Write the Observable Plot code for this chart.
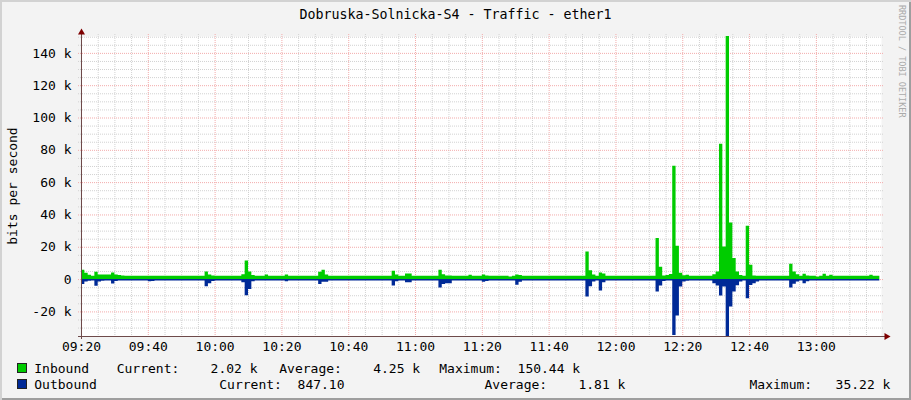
<!DOCTYPE html>
<html><head><meta charset="utf-8">
<script src="https://cdn.jsdelivr.net/npm/d3@7"></script>
<script src="https://cdn.jsdelivr.net/npm/@observablehq/plot@0.6"></script>
<style>
html,body{margin:0;padding:0;background:#fff;}
#chart{position:relative;width:911px;height:400px;background:#f3f3f3;box-shadow:inset 2px 2px 0 #d2d2d2, inset -2px -2px 0 #9e9e9e;font-family:"DejaVu Sans Mono",monospace;font-size:13px;color:#000;overflow:hidden}
#chart svg{position:absolute;left:0;top:0}
.t{position:absolute;white-space:pre;line-height:13px}
.sw{position:absolute;width:10px;height:10px;box-sizing:border-box;border:1px solid #222}
</style></head><body><div id="chart"></div>
<script>
// ---- data (values in k bits per second, one sample per minute from 09:20) ----
const startLabel = "09:20";
const inbound = [
  5.8,4.0,2.7,2.1,4.5,2.9,2.9,2.8,2.8,4.1,2.9,2.6,2.2,2.0,2.0,2.1,2.0,2.0,2.0,2.0,
  2.0,2.0,2.0,2.1,2.0,2.0,2.0,2.0,2.0,2.0,2.0,2.1,2.0,2.0,2.0,2.0,2.0,4.7,2.9,2.2,
  2.0,2.0,2.0,2.0,2.0,2.0,2.0,2.0,3.0,11.5,4.7,2.5,2.1,2.0,2.0,2.9,2.1,2.0,2.0,2.0,
  2.0,2.9,2.1,2.0,2.0,2.0,2.0,2.0,2.0,2.0,2.0,4.5,5.8,2.9,2.1,2.0,2.0,2.0,2.0,2.0,
  2.0,2.0,2.0,2.0,2.0,2.0,2.0,2.0,2.0,2.0,2.0,2.0,2.0,5.2,2.9,2.1,2.0,3.5,3.5,2.1,
  2.0,2.0,2.0,2.0,2.0,2.0,2.0,5.8,3.0,2.2,2.2,2.0,2.0,2.0,2.0,2.0,2.7,2.0,2.0,2.0,
  2.9,2.2,2.0,2.0,2.0,2.0,2.0,2.0,1.6,2.0,2.9,2.5,2.0,2.0,2.0,2.0,2.0,2.0,2.0,2.0,
  2.0,2.0,2.0,2.0,2.0,2.0,2.0,2.0,2.0,2.0,2.1,17.0,5.4,2.9,2.0,4.1,3.5,2.1,2.0,2.0,
  2.0,2.0,2.0,2.0,2.0,2.0,2.0,2.0,2.0,2.0,2.0,2.0,25.4,7.6,2.2,2.5,3.1,70.2,20.6,3.9,
  2.3,2.7,2.0,2.0,2.0,2.0,2.0,2.0,2.0,3.0,4.7,83.8,20.2,150.44,35.0,13.0,4.7,2.5,2.0,33.0,
  8.9,2.2,2.0,2.0,2.0,2.0,2.0,2.0,2.0,2.0,2.0,2.0,9.5,4.7,3.0,2.0,3.3,2.2,2.0,2.0,
  1.6,2.0,3.3,2.0,2.7,2.0,2.0,2.0,2.0,2.0,2.0,2.0,2.0,2.0,2.0,2.0,2.7,2.0,2.0,2.02
];
const outbound = [
  3.1,1.5,1.0,0.9,4.1,1.5,1.0,0.9,0.9,2.7,1.2,0.9,0.9,0.9,0.9,0.9,0.9,0.9,0.9,0.9,
  1.4,1.2,0.9,0.9,0.9,0.9,0.9,0.9,0.9,0.9,0.9,0.9,0.9,0.9,0.9,0.9,0.9,4.5,2.5,1.2,
  0.9,0.9,0.9,0.9,0.9,0.9,0.9,0.9,2.0,10.0,6.2,1.4,0.9,0.9,0.9,0.9,0.9,0.9,0.9,0.9,
  0.9,1.4,0.9,0.9,0.9,0.9,0.9,0.9,0.9,0.9,0.9,3.1,1.6,1.6,0.9,0.9,0.9,0.9,0.9,0.9,
  0.9,0.9,0.9,0.9,0.9,0.9,0.9,0.9,0.9,0.9,0.9,0.9,0.9,3.9,1.4,0.9,0.9,2.0,2.0,0.9,
  0.9,0.9,0.9,0.9,0.9,0.9,0.9,5.2,3.1,2.5,2.5,0.9,0.9,0.9,0.9,0.9,0.9,0.9,0.9,0.9,
  1.6,1.2,0.9,0.9,0.9,0.9,0.9,0.9,0.9,0.9,3.5,1.6,0.9,0.9,0.9,0.9,0.9,0.9,0.9,0.9,
  0.9,0.9,0.9,0.9,0.9,0.9,0.9,0.9,0.9,0.9,0.9,10.7,4.5,1.5,0.9,7.0,2.0,0.9,0.9,0.9,
  0.9,0.9,0.9,0.9,0.9,0.9,0.9,0.9,0.9,0.9,0.9,0.9,7.7,3.9,1.2,0.9,0.9,34.6,22.5,4.6,
  1.5,1.0,0.9,0.9,0.9,0.9,0.9,0.9,0.9,2.5,3.9,10.1,4.6,35.22,17.0,7.7,3.8,1.5,0.9,11.8,
  3.6,2.5,1.5,0.9,0.9,0.9,0.9,0.9,0.9,0.9,0.9,0.9,5.2,2.9,1.5,0.9,2.5,1.4,0.9,0.9,
  0.9,0.9,0.9,0.9,0.9,0.9,0.9,0.9,0.9,0.9,0.9,0.9,0.9,0.9,0.9,0.9,0.9,0.9,0.9,0.847
];
const xTickLabels = ["09:20","09:40","10:00","10:20","10:40","11:00","11:20","11:40","12:00","12:20","12:40","13:00"];
const yTickValues = [-20,0,20,40,60,80,100,120,140];
const titleText = "Dobruska-Solnicka-S4 - Traffic - ether1";
const yLabelText = "bits per second";
const watermarkText = "RRDTOOL / TOBI OETIKER";
const seriesNames = ["Inbound","Outbound"];
const legendCurrent = ["Current:    2.02 k","Current:  847.10"];
const legendAverage = ["Average:    4.25 k","Average:    1.81 k"];
const legendMaximum = ["Maximum:  150.44 k","Maximum:   35.22 k"];

// ---- build ----
const parseHM = s => { const [h,m] = s.split(":").map(Number); return new Date(Date.UTC(2000,0,1,h,m)); };
const t0 = parseHM(startLabel).getTime();
const data = inbound.map((v,i) => ({t: new Date(t0 + i*60000), inb: v, out: -outbound[i]}));
const xEnd = new Date(t0 + (inbound.length - 0.5)*60000);
const yMax = d3.max(inbound), yMin = -d3.max(outbound);
const majorX = xTickLabels.map(parseHM);
const minorX = d3.range(0, (inbound.length)*60000, 5*60000).map(ms => new Date(t0+ms)).filter(d => d.getUTCMinutes() % 20 !== 0);
const majorY = yTickValues;
const minorY = d3.range(-30, yMax, 5).filter(v => v % 20 !== 0);

const GREEN = "#00cc00", BLUE = "#002a97";
const GRID = "#d2d2d2", MGRID = "#f3abab", AXIS = "#6e4a4a", ARROW = "#7f0000";

const svg = Plot.plot({
  width: 911, height: 400,
  marginTop: 36, marginBottom: 64, marginLeft: 81, marginRight: 30,
  style: {background: "transparent", fontFamily: "DejaVu Sans Mono", fontSize: "13px", color: "#000"},
  x: {type: "utc", domain: [new Date(t0), xEnd], ticks: majorX, tickFormat: d3.utcFormat("%H:%M"), tickSize: 0, tickPadding: 5, label: null},
  y: {domain: [yMin, yMax], ticks: yTickValues, tickFormat: d => d === 0 ? "0" : `${d} k`, tickSize: 0, tickPadding: 10, label: null},
  marks: [
    Plot.frame({fill: "white", stroke: "none"}),
    Plot.ruleX(minorX, {stroke: GRID, strokeDasharray: "1,1", insetTop: -2, insetBottom: -2}),
    Plot.ruleY(minorY, {stroke: GRID, strokeDasharray: "1,1", insetLeft: -3, insetRight: -3}),
    Plot.ruleX(majorX, {stroke: MGRID, strokeDasharray: "1,1", insetTop: -2, insetBottom: -2}),
    Plot.ruleY(majorY, {stroke: MGRID, strokeDasharray: "1,1", insetLeft: -3, insetRight: -3}),
    Plot.areaY(data, {x: "t", y1: 0, y2: "inb", fill: GREEN, curve: "step-after"}),
    Plot.areaY(data, {x: "t", y1: 0, y2: "out", fill: BLUE, curve: "step-after"}),
    Plot.ruleX([new Date(t0)], {stroke: AXIS, insetTop: -4, insetBottom: -3}),
    Plot.ruleY([yMin], {stroke: AXIS, insetLeft: -3, insetRight: -4}),
    Plot.dot([0], {frameAnchor: "top-left", symbol: "triangle", r: 2.6, fill: ARROW, stroke: "none", dy: -4}),
    Plot.dot([0], {frameAnchor: "bottom-right", symbol: "triangle", r: 2.6, fill: ARROW, stroke: "none", dx: 5, rotate: 90})
  ]
});
const root = document.getElementById("chart");
root.appendChild(svg);

function addText(txt, left, top, extra) {
  const d = document.createElement("div");
  d.className = "t"; d.textContent = txt;
  d.style.left = left + "px"; d.style.top = top + "px";
  if (extra) Object.assign(d.style, extra);
  root.appendChild(d); return d;
}
addText(titleText, 0, 8, {width: "911px", textAlign: "center", fontSize: "13.3px"});
addText(yLabelText, 12, 186, {transform: "translate(-50%,-50%) rotate(-90deg)"});
addText(watermarkText, 897, 5, {writingMode: "vertical-rl", fontSize: "8.5px", color: "#aaaaaa", lineHeight: "9px"});

const rowTop = [362, 378];
const colors = [GREEN, BLUE];
const cur = [116.7, 219.3], avg = [279.3, 484.5], mx = [439.3, 749.5];
seriesNames.forEach((name, i) => {
  const sw = document.createElement("div");
  sw.className = "sw"; sw.style.left = "17px"; sw.style.top = (rowTop[i] + 1) + "px"; sw.style.background = colors[i];
  root.appendChild(sw);
  addText(name, 34.3, rowTop[i]);
  addText(legendCurrent[i], cur[i], rowTop[i]);
  addText(legendAverage[i], avg[i], rowTop[i]);
  addText(legendMaximum[i], mx[i], rowTop[i]);
});
</script></body></html>
